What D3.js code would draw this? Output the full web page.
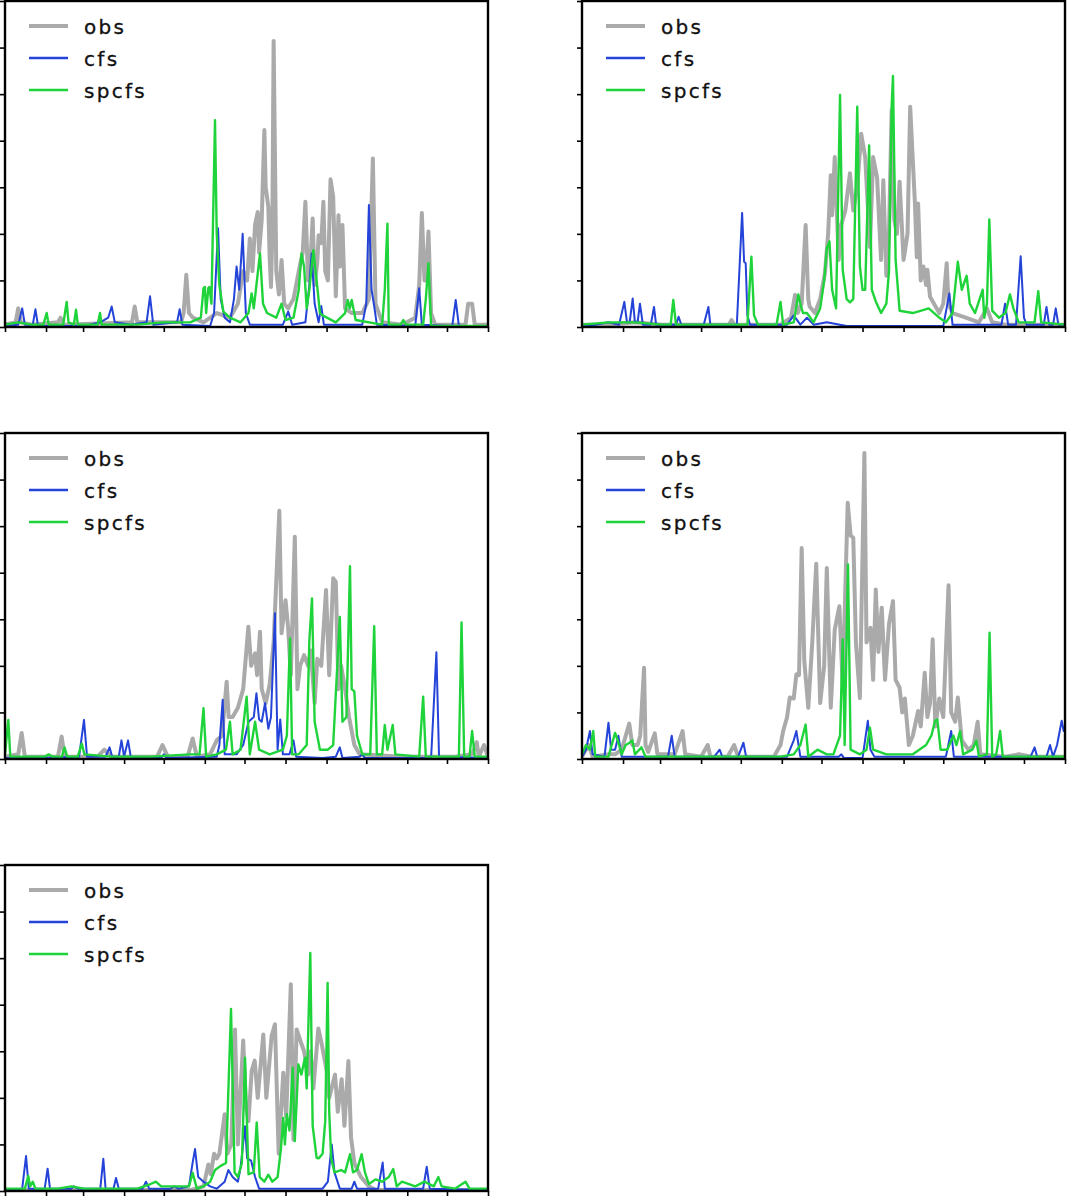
<!DOCTYPE html>
<html>
<head>
<meta charset="utf-8">
<script src="https://cdn.jsdelivr.net/npm/d3@7"></script>
<style>
  body { margin: 0; background: #fff; }
  svg { display: block; }
</style>
</head>
<body>
<div id="chart"></div>
<script>
// day of year (0 = Jan 1) and value
var obs1 = [[0,0.05],[8,0.1],[10,0.4],[12,0.1],[20,0.05],[40,0.1],[42,0.2],[44,0.05],[96,0.1],[98,0.44],[100,0.1],[133,0.1],[135,0.3],[137,1.12],[139,0.3],[142,0.2],[150,0.1],[160,0.3],[170,0.2],[176,0.5],[180,1.2],[183,1.0],[185,1.9],[187,1.2],[189,2.2],[191,2.47],[192,1.6],[194,2.3],[196,4.23],[197,3.0],[199,2.58],[200,1.5],[201,0.86],[202,2.0],[203,6.14],[205,1.2],[207,0.7],[209,1.44],[211,0.5],[214,0.4],[218,0.6],[222,1.2],[225,1.6],[227,2.69],[229,1.0],[231,1.5],[232.5,2.33],[234,0.9],[236,1.4],[237,1.97],[239,1.8],[240.6,2.69],[242,1.2],[244,1.0],[246,3.17],[248,2.8],[250,0.66],[252,2.4],[253,1.3],[255,2.19],[257,0.4],[262,0.3],[270,0.3],[275,0.6],[278,3.62],[280,0.5],[285,0.1],[300,0.05],[310,0.2],[313,0.9],[315,2.45],[317,1.0],[318,1.0],[320,2.05],[322,0.3],[325,0.05],[348,0.05],[350,0.5],[353,0.5],[355,0.05],[365,0.05]];
var cfs1 = [[0,0.02],[10,0.05],[13,0.4],[15,0.05],[21,0.05],[23,0.38],[25,0.02],[60,0.02],[72,0.1],[78,0.2],[80.6,0.44],[83,0.1],[95,0.05],[107,0.1],[109.6,0.66],[112,0.05],[130,0.1],[132,0.38],[134,0.05],[155,0.02],[158,0.3],[161,2.12],[163,0.6],[166,0.2],[170,0.1],[173,0.6],[175,1.3],[177,0.8],[179.6,2.0],[182,0.3],[185,0.05],[210,0.05],[214,0.33],[217,0.05],[227,0.1],[230,0.9],[231.7,1.58],[234,0.5],[237,0.1],[239,0.45],[241,0.05],[270,0.05],[273,0.5],[275,2.62],[277,0.8],[279,0.45],[281,0.05],[310,0.02],[313,0.83],[315,0.05],[338,0.02],[340.6,0.58],[343,0.02],[365,0.02]];
var spcfs1 = [[0,0.05],[10,0.1],[20,0.05],[29,0.05],[31.5,0.3],[33,0.05],[44,0.05],[46.6,0.54],[48,0.1],[52,0.05],[53.7,0.37],[55,0.05],[70,0.05],[71.8,0.3],[73,0.05],[100,0.05],[120,0.1],[140,0.1],[148,0.2],[150,0.83],[151,0.86],[152,0.3],[153.6,0.83],[154.4,0.86],[156,0.5],[158.7,4.44],[160,2.0],[162,0.9],[165,0.33],[170,0.2],[178,0.1],[184,0.3],[186.4,0.72],[188,0.4],[192.7,1.58],[195,0.5],[198,0.3],[205,0.2],[209,0.5],[212,0.15],[218,0.2],[222,0.8],[224,1.58],[226,1.3],[228,0.4],[230,0.8],[233,1.65],[236,0.86],[238,0.3],[240,0.25],[250,0.1],[257,0.3],[259,0.58],[260.5,0.4],[262,0.58],[265,0.15],[285,0.05],[287,0.8],[289,2.22],[290,0.05],[299,0.05],[301,0.15],[303,0.05],[316,0.05],[318,0.6],[320,1.37],[322,0.02],[365,0.02]];

var obs2 = [[0,0.05],[20,0.05],[40,0.1],[60,0.05],[100,0.05],[111,0.05],[113,0.15],[115,0.05],[150,0.05],[158,0.2],[161,0.69],[163,0.3],[166,0.5],[169,2.19],[171,0.6],[172,0.44],[176,0.3],[180,0.6],[183.6,1.16],[186,2.0],[188,3.26],[189,2.4],[191,3.65],[194,1.44],[196,2.2],[199,2.5],[202.5,3.3],[205,2.5],[208,3.0],[211,4.15],[214,3.65],[217.6,1.72],[220,3.65],[223,3.2],[226,1.44],[227.7,3.15],[230,1.1],[232,2.0],[234,4.66],[236,2.3],[238,2.0],[240,3.12],[243,1.44],[246,2.0],[248,4.73],[251.6,2.65],[253,1.5],[254,2.65],[256,1.0],[258,1.3],[260,0.9],[261,1.23],[263,0.65],[266,0.5],[270,0.3],[273,0.5],[275.6,1.37],[277,0.5],[280,0.3],[290,0.2],[300,0.1],[306,0.4],[310,0.1],[320,0.05],[365,0.05]];
var cfs2 = [[0,0.02],[10,0.05],[20,0.1],[28,0.05],[32,0.54],[34,0.1],[36,0.1],[38.3,0.61],[40,0.1],[42,0.1],[43.8,0.5],[46,0.05],[52,0.05],[54.4,0.43],[56,0.05],[71,0.05],[73,0.22],[75,0.05],[92,0.05],[95.5,0.43],[97,0.05],[117,0.05],[121,2.45],[122.5,1.4],[123.7,1.37],[125,0.25],[127,0.05],[155,0.05],[160,0.25],[165,0.05],[170,0.2],[175,0.05],[185,0.1],[200,0.02],[273,0.02],[277.6,0.72],[280,0.05],[317,0.05],[319.7,0.5],[322,0.05],[328,0.05],[331.5,1.52],[334,0.2],[336,0.05],[349,0.05],[351,0.43],[353,0.05],[356,0.05],[358,0.4],[360,0.05],[365,0.05]];
var spcfs2 = [[0,0.05],[20,0.1],[40,0.1],[60,0.05],[67,0.05],[69,0.58],[71,0.05],[100,0.05],[125,0.05],[128,1.51],[130,0.25],[133,0.05],[147,0.05],[150,0.54],[152,0.05],[160,0.1],[163.5,0.7],[165,0.5],[167,0.3],[170,0.3],[175,0.1],[180,0.4],[183,1.0],[185,1.69],[187,1.84],[189,0.8],[192,0.4],[195,4.98],[197,1.23],[200,0.6],[202.5,0.53],[205,0.6],[208,4.73],[210,1.3],[212,0.8],[214,0.8],[217,3.9],[219,0.8],[222,0.55],[226,0.3],[230,0.5],[232,1.2],[234,4.73],[235,5.39],[237,1.44],[240,0.35],[250,0.3],[262,0.4],[270,0.2],[275,0.1],[280,0.3],[284,1.4],[287,0.8],[290.7,1.1],[293,0.5],[297,0.3],[302.8,0.8],[304,0.2],[306,0.5],[307.8,2.31],[310,0.35],[315,0.2],[320,0.3],[323.4,0.7],[326,0.4],[330,0.1],[342,0.1],[344.8,0.77],[347,0.1],[365,0.05]];

var obs3 = [[0,0.05],[10,0.1],[12.6,0.56],[15,0.05],[40,0.05],[42.8,0.48],[45,0.05],[70,0.05],[75,0.2],[80,0.05],[115,0.05],[119,0.3],[123,0.05],[138,0.05],[141.8,0.44],[145,0.05],[155,0.1],[160,0.4],[164,0.5],[167.5,1.66],[169,0.9],[172,0.9],[176,1.1],[180,1.5],[183.9,2.84],[186,2.0],[189,2.27],[190.5,1.8],[192.7,2.73],[194,1.5],[197,1.2],[200,1.6],[203,2.5],[207.3,5.33],[209,2.7],[212,3.41],[214,2.8],[216,1.8],[219,4.77],[221,1.5],[223,2.0],[226,2.23],[229,2.0],[231,2.33],[234,1.2],[236,2.15],[239,2.0],[242.6,3.63],[245,1.8],[248,3.88],[250,3.8],[252,1.5],[254,2.0],[257,1.5],[260,0.9],[264,0.3],[268,0.1],[300,0.05],[340,0.05],[353,0.1],[356.5,0.36],[358,0.05],[362,0.3],[365,0.05]];
var cfs3 = [[0,0.02],[30,0.02],[56,0.05],[59.7,0.84],[62,0.05],[76,0.05],[79,0.25],[81,0.05],[86,0.05],[88,0.4],[90,0.05],[93,0.4],[95,0.05],[118,0.02],[120,0.1],[122,0.02],[160,0.05],[162,0.3],[164.5,1.27],[166,0.1],[175,0.1],[180,0.3],[184,0.8],[188,0.9],[190,1.41],[192,0.85],[194,0.8],[196.5,1.2],[199,0.65],[201,0.9],[204,3.13],[206,0.2],[208,0.85],[210,0.1],[215,0.1],[218,0.4],[220,0.05],[240,0.02],[250,0.05],[253,0.25],[255,0.02],[268,0.05],[270,0.1],[272,0.02],[322,0.02],[326,2.29],[328,0.05],[365,0.02]];
var spcfs3 = [[0,0.1],[2.5,0.84],[4,0.05],[30,0.05],[33,0.1],[36,0.05],[43,0.05],[45,0.25],[47,0.05],[55,0.05],[58,0.33],[60,0.1],[80,0.05],[110,0.05],[140,0.1],[147,0.1],[150,1.09],[152,0.05],[160,0.1],[167,0.2],[170,0.8],[172,0.1],[178,0.2],[182.6,1.34],[185,0.1],[189,0.8],[192,0.2],[200,0.1],[210,0.2],[213,0.5],[215.4,2.59],[217,0.1],[222,0.1],[228,0.3],[230,2.55],[232,3.45],[234,0.8],[238,0.2],[244,0.2],[248,0.3],[253,3.05],[255,0.8],[258,0.9],[260.7,4.14],[262,1.5],[264,1.45],[266,0.5],[270,0.1],[276,0.1],[279,2.85],[281,0.1],[285,0.1],[287,0.73],[289,0.2],[293,0.73],[295,0.1],[313,0.05],[316,1.34],[318,0.05],[343,0.05],[345,2.93],[347,0.05],[351,0.05],[353,0.6],[355,0.05],[365,0.05]];

var obs4 = [[0,0.05],[5,0.3],[8,0.05],[20,0.1],[25,0.1],[30,0.2],[35.7,0.76],[38,0.3],[42,0.3],[44,0.5],[46.9,1.96],[48,0.3],[50,0.15],[55,0.55],[57,0.1],[70,0.1],[76,0.6],[78,0.1],[90,0.05],[95,0.3],[97,0.05],[110,0.05],[115,0.3],[118,0.05],[145,0.05],[150,0.3],[152,0.6],[155,0.9],[157,1.32],[160,1.3],[162,1.82],[164,1.8],[166,4.53],[168,2.1],[171,1.1],[174,2.5],[177,4.19],[180,1.2],[183,2.0],[185,4.1],[188,1.1],[191,2.78],[194.5,3.28],[197,1.6],[200.8,5.5],[203,4.8],[205,4.75],[207,2.5],[210,1.31],[213.4,6.57],[215,2.5],[218,2.82],[220,1.7],[222,3.64],[224,2.3],[226.5,3.25],[229,1.7],[232,2.9],[235,3.39],[237,1.7],[240,1.53],[242,1.0],[244,1.3],[247,0.3],[250,0.5],[254,1.03],[256,0.7],[259,1.85],[261,0.9],[263,1.2],[265,2.57],[267,0.7],[270,1.3],[273,0.9],[277,3.73],[279,1.0],[282,0.8],[284,1.32],[287,0.4],[292,0.2],[296,0.3],[299,0.8],[301,0.1],[320,0.05],[330,0.1],[340,0.05],[365,0.05]];
var cfs4 = [[0,0.05],[3,0.2],[6,0.6],[8,0.1],[17,0.05],[20,0.78],[22,0.2],[25,0.2],[27.5,0.5],[30,0.05],[65,0.05],[67.8,0.5],[70,0.05],[100,0.05],[104,0.2],[106,0.05],[118,0.05],[122,0.35],[124,0.05],[155,0.05],[160,0.4],[162,0.6],[165,0.05],[194,0.05],[196,0.1],[198,0.02],[212,0.02],[216,0.82],[218,0.2],[221,0.05],[275,0.05],[279,0.6],[281,0.05],[339,0.05],[342,0.25],[344,0.05],[351,0.05],[353.7,0.3],[356,0.05],[359,0.3],[362.5,0.82],[364,0.6],[365,0.7]];
var spcfs4 = [[0,0.1],[3,0.3],[6,0.2],[8.5,0.6],[10,0.05],[20,0.05],[25,0.56],[27,0.4],[30,0.1],[33,0.3],[36,0.35],[38,0.4],[40,0.1],[45,0.25],[48,0.05],[80,0.05],[120,0.05],[150,0.05],[160,0.1],[165,0.3],[169,0.74],[171,0.05],[178,0.2],[185,0.1],[190,0.1],[195,0.5],[197,2.57],[198.5,0.3],[201,4.18],[203,0.2],[210,0.1],[215,0.2],[217.6,0.67],[220,0.2],[230,0.1],[250,0.1],[260,0.3],[264,0.5],[266.8,0.82],[268.5,0.85],[271,0.2],[276,0.2],[280.6,0.5],[283,0.3],[285.7,0.6],[288,0.1],[295,0.2],[298,0.4],[300,0.05],[306,0.1],[308,2.71],[310,0.05],[313,0.1],[316,0.6],[318,0.05],[365,0.05]];

var obs5 = [[0,0.02],[140,0.02],[150,0.1],[153.7,0.57],[155.5,0.36],[158,0.8],[160,0.7],[162,0.8],[166,1.65],[168,0.8],[171,1.0],[173.8,3.47],[176,1.0],[180,3.23],[182,1.8],[184,1.5],[186.4,2.58],[188.7,2.8],[191,2.0],[195.2,3.36],[197.5,2.0],[201.5,3.33],[204,3.58],[206.8,0.8],[210.3,2.54],[212.5,1.6],[216,4.44],[218,1.1],[220.4,3.47],[223.5,3.2],[226,3.0],[229,2.5],[231,3.0],[233,2.2],[236.8,3.49],[239,3.2],[243,2.6],[245,2.0],[249.4,2.5],[251.5,1.7],[254.4,2.4],[256.5,1.4],[259.5,2.79],[261.5,1.15],[264,0.6],[269,0.3],[275,0.1],[280,0.02],[365,0.02]];
var cfs5 = [[0,0.02],[13,0.05],[15.9,0.75],[18,0.05],[30,0.05],[32.2,0.48],[34,0.05],[50,0.05],[52,0.1],[55,0.05],[72,0.05],[74.3,0.69],[76,0.05],[82,0.05],[83.9,0.28],[86,0.05],[104,0.05],[106.5,0.2],[109,0.05],[125,0.05],[128,0.1],[131,0.05],[139,0.1],[141.8,0.61],[143.6,0.9],[146,0.3],[150,0.2],[155,0.1],[160,0.05],[166,0.2],[168.8,0.45],[172,0.3],[176,0.2],[178,0.5],[181.4,1.39],[183,0.7],[186,0.65],[189,0.3],[192,0.05],[210,0.05],[240,0.05],[244,0.2],[246.9,1.0],[249,0.4],[253,0.05],[262,0.05],[264,0.2],[266,0.05],[282,0.05],[285.4,0.61],[287,0.05],[316,0.05],[318.7,0.52],[321,0.05],[365,0.02]];
var spcfs5 = [[0,0.05],[15,0.05],[17.6,0.32],[19,0.1],[21,0.2],[23,0.05],[40,0.05],[50,0.1],[60,0.05],[100,0.05],[110,0.15],[114,0.2],[118,0.1],[130,0.1],[139,0.1],[141.8,0.39],[145,0.05],[150,0.1],[155,0.2],[158.7,0.45],[163,0.54],[167,0.6],[170.8,3.91],[173.5,0.4],[176,0.3],[179,0.6],[181.4,2.86],[184,0.36],[188,0.4],[190.2,1.47],[192.5,0.3],[196,0.2],[199,0.35],[202,0.2],[206,0.3],[208.5,0.9],[210.3,1.57],[211.5,1.0],[213,1.65],[215,1.3],[217.4,2.65],[219,1.07],[221.7,2.72],[224,2.5],[226.7,2.86],[228,2.2],[230.7,5.11],[232.5,1.4],[235.5,0.71],[237,0.7],[240,0.8],[242,1.5],[243.8,4.47],[245,1.7],[246.5,0.7],[249,0.4],[254,0.45],[257,0.4],[260.7,0.79],[263,0.4],[266,0.45],[269.5,0.79],[272,0.4],[275,0.15],[280,0.25],[285,0.2],[290,0.3],[293.4,0.47],[296,0.1],[300,0.2],[310,0.1],[317,0.2],[324,0.1],[327.5,0.3],[330,0.1],[340,0.05],[348,0.2],[351,0.05],[365,0.05]];

var seriesNames = ["obs", "cfs", "spcfs"];
var monthTicks = [0, 31, 59, 90, 120, 151, 181, 212, 243, 273, 304, 334, 365];
var valueTicks = [0, 1, 2, 3, 4, 5, 6, 7];

var panels = [
    {x: 5,   y: 1,   data: [obs1, cfs1, spcfs1]},
    {x: 582, y: 1,   data: [obs2, cfs2, spcfs2]},
    {x: 5,   y: 433, data: [obs3, cfs3, spcfs3]},
    {x: 582, y: 433, data: [obs4, cfs4, spcfs4]},
    {x: 5,   y: 865, data: [obs5, cfs5, spcfs5]}
];

var W = 1070, H = 1197;
var pw = 483, ph = 326;
var colors = ["#aaaaaa", "#2443d8", "#1fd43a"];
var widths = [4, 2, 2.4];

var svg = d3.select("#chart").append("svg")
    .attr("width", W)
    .attr("height", H);

var x = d3.scaleLinear().domain([0, 365]).range([0, pw]);
var y = d3.scaleLinear().domain([0, 7]).range([ph, 0]);

var line = d3.line()
    .x(function(d) { return x(d[0]); })
    .y(function(d) { return y(d[1]); });

panels.forEach(function(p, i) {
    var g = svg.append("g").attr("transform", "translate(" + p.x + "," + p.y + ")");

    g.append("clipPath").attr("id", "clip" + i)
        .append("rect").attr("width", pw).attr("height", ph);

    var plot = g.append("g").attr("clip-path", "url(#clip" + i + ")");
    p.data.forEach(function(s, k) {
        plot.append("path")
            .datum(s)
            .attr("d", line)
            .attr("fill", "none")
            .attr("stroke", colors[k])
            .attr("stroke-width", widths[k])
            .attr("stroke-linejoin", "round");
    });

    // axes, ticks only
    var yAxis = g.append("g")
        .call(d3.axisLeft(y).tickValues(valueTicks).tickSize(5).tickFormat(""));
    var xAxis = g.append("g")
        .attr("transform", "translate(0," + ph + ")")
        .call(d3.axisBottom(x).tickValues(monthTicks).tickSize(5).tickFormat(""));
    [yAxis, xAxis].forEach(function(a) {
        a.select(".domain").remove();
        a.selectAll("line").attr("stroke", "#000").attr("stroke-width", 1.6);
    });

    g.append("rect")
        .attr("width", pw).attr("height", ph)
        .attr("fill", "none")
        .attr("stroke", "#000")
        .attr("stroke-width", 2.4);

    var leg = g.append("g").attr("transform", "translate(24,25)");
    seriesNames.forEach(function(name, k) {
        leg.append("line")
            .attr("x1", 0).attr("x2", 39)
            .attr("y1", k * 32).attr("y2", k * 32)
            .attr("stroke", colors[k])
            .attr("stroke-width", k == 0 ? 4 : 2.4);
        leg.append("text")
            .attr("x", 55).attr("y", k * 32 + 8)
            .attr("font-family", "DejaVu Sans, sans-serif")
            .attr("font-size", 20)
            .attr("letter-spacing", 2.3)
            .attr("fill", "#111")
            .attr("stroke", "#111")
            .attr("stroke-width", 0.3)
            .text(name);
    });
});
</script>
</body>
</html>
